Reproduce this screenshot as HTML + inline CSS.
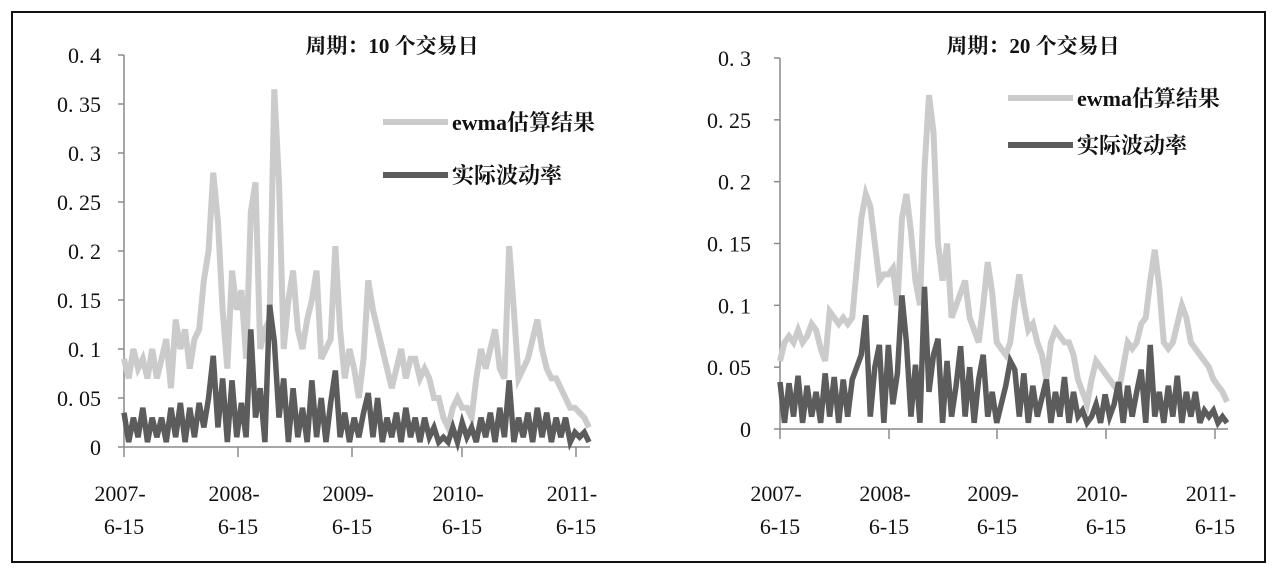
<!DOCTYPE html>
<html><head><meta charset="utf-8">
<style>
html,body{margin:0;padding:0;background:#fff;}
svg{display:block;}
text{font-family:"Liberation Serif","Noto Serif CJK SC","Noto Sans CJK SC",serif;fill:#111;}
</style></head>
<body>
<svg id="root" width="1278" height="571" viewBox="0 0 1278 571" xmlns="http://www.w3.org/2000/svg">
<rect x="12" y="12" width="1253" height="550" fill="#fff" stroke="#111" stroke-width="2"/>
<g id="c1"></g>
<g id="c2"></g>
</svg>
<script>
const xCategories = ["2007-|6-15","2008-|6-15","2009-|6-15","2010-|6-15","2011-|6-15"];
const yTicks1 = [0,0.05,0.1,0.15,0.2,0.25,0.3,0.35,0.4];
const yTickLabels1 = ["0","0. 05","0. 1","0. 15","0. 2","0. 25","0. 3","0. 35","0. 4"];
const yTicks2 = [0,0.05,0.1,0.15,0.2,0.25,0.3];
const yTickLabels2 = ["0","0. 05","0. 1","0. 15","0. 2","0. 25","0. 3"];
const ewma10 = [.09,.07,.10,.08,.09,.07,.10,.07,.09,.11,.06,.13,.10,.12,.08,.11,.12,.17,.20,.28,.23,.14,.08,.18,.14,.16,.09,.24,.27,.10,.12,.13,.365,.27,.10,.15,.18,.12,.10,.13,.15,.18,.09,.10,.11,.205,.12,.07,.10,.08,.05,.09,.17,.14,.12,.10,.08,.06,.08,.10,.07,.09,.09,.07,.08,.07,.05,.05,.03,.02,.04,.05,.04,.04,.03,.07,.10,.08,.10,.12,.08,.07,.205,.14,.07,.08,.09,.11,.13,.10,.08,.07,.07,.06,.05,.04,.04,.035,.03,.02];
const actual10 = [.035,.005,.03,.01,.04,.005,.03,.01,.03,.005,.04,.01,.045,.005,.04,.01,.045,.02,.05,.093,.02,.07,.005,.068,.01,.045,.01,.12,.03,.06,.005,.145,.108,.03,.07,.005,.06,.01,.04,.005,.068,.01,.05,.005,.045,.078,.01,.035,.005,.03,.01,.035,.055,.01,.05,.005,.03,.01,.035,.005,.04,.01,.03,.005,.03,.01,.02,.005,.01,.005,.02,.005,.025,.01,.02,.005,.03,.01,.035,.005,.04,.01,.068,.005,.03,.01,.035,.005,.04,.01,.035,.005,.03,.01,.03,.005,.015,.01,.015,.005];
const ewma20 = [.055,.07,.075,.07,.08,.07,.075,.085,.08,.065,.055,.095,.09,.085,.09,.085,.09,.13,.17,.19,.18,.15,.12,.125,.125,.13,.10,.17,.19,.16,.12,.10,.21,.27,.24,.15,.12,.15,.09,.10,.11,.12,.09,.08,.07,.10,.135,.11,.07,.065,.06,.07,.10,.125,.10,.08,.085,.07,.06,.04,.07,.08,.075,.07,.07,.06,.04,.03,.02,.04,.055,.05,.045,.04,.035,.03,.05,.07,.065,.07,.085,.09,.12,.145,.115,.07,.065,.07,.085,.10,.09,.07,.065,.06,.055,.05,.04,.035,.03,.022];
const actual20 = [.038,.005,.037,.01,.043,.005,.035,.01,.03,.005,.045,.01,.042,.005,.04,.01,.04,.05,.06,.092,.01,.05,.068,.005,.068,.02,.045,.108,.07,.01,.052,.005,.115,.03,.06,.073,.005,.055,.01,.035,.067,.01,.05,.005,.04,.06,.01,.03,.005,.02,.035,.055,.048,.01,.045,.005,.035,.01,.025,.04,.005,.03,.01,.042,.005,.03,.01,.015,.005,.01,.02,.005,.028,.01,.02,.038,.005,.035,.01,.03,.048,.005,.068,.01,.03,.005,.035,.01,.043,.005,.03,.01,.03,.005,.015,.01,.015,.005,.01,.005];

const NS="http://www.w3.org/2000/svg";
function mk(parent,tag,attrs){const e=document.createElementNS(NS,tag);for(const k in attrs)e.setAttribute(k,attrs[k]);parent.appendChild(e);return e;}

function drawChart(g,cfg){
  const {x0,x1,xEnd,y0,yTop,yMax,ticks,labels,labelRight,tickXs,ewma,actual,title,titleX,legX,legY1,legY2}=cfg;
  const ys=v=>y0-(v/yMax)*(y0-yTop);
  const n=ewma.length;
  const xs=i=>x0+(i/(n-1))*(xEnd-x0);
  const t=mk(g,'text',{x:titleX,y:53,'text-anchor':'middle','font-size':21,'font-weight':'bold'});
  t.textContent=title;
  
  
  const ya=mk(g,'line',{x1:x0,y1:yTop,x2:x0,y2:y0,stroke:'#8a8a8a','stroke-width':1.5});
  
  
  ticks.forEach((v,k)=>{
    mk(g,'line',{x1:x0-6,y1:ys(v),x2:x0,y2:ys(v),stroke:'#8a8a8a','stroke-width':1.5});
    const tl=mk(g,'text',{x:labelRight,y:ys(v)+8,'text-anchor':'end','font-size':22});
    tl.textContent=labels[k];
    
    
  });
  const xa=mk(g,'line',{x1:x0,y1:y0,x2:x1,y2:y0,stroke:'#8a8a8a','stroke-width':1.5});
  
  
  tickXs.forEach((tx,k)=>{
    mk(g,'line',{x1:tx,y1:y0,x2:tx,y2:y0+10,stroke:'#8a8a8a','stroke-width':1.5});
    const parts=xCategories[k].split('|');
    const a=mk(g,'text',{x:tx-4,y:501,'text-anchor':'middle','font-size':22});
    a.textContent=parts[0];
    
    
    const b=mk(g,'text',{x:tx,y:534,'text-anchor':'middle','font-size':22});
    b.textContent=parts[1];
    
    
  });
  const p1=mk(g,'polyline',{points:ewma.map((v,i)=>xs(i)+','+ys(v)).join(' '),fill:'none',stroke:'#cbcbcb','stroke-width':6,'stroke-linejoin':'miter'});
  
  
  const p2=mk(g,'polyline',{points:actual.map((v,i)=>xs(i)+','+ys(v)).join(' '),fill:'none',stroke:'#5c5c5c','stroke-width':5.5,'stroke-linejoin':'miter'});
  
  
  const l1=mk(g,'g',{});
  
  
  mk(l1,'line',{x1:legX,y1:legY1,x2:legX+65,y2:legY1,stroke:'#cbcbcb','stroke-width':6});
  const lt1=mk(l1,'text',{x:legX+69,y:legY1+8,'font-size':22,'font-weight':'bold'});
  lt1.textContent='ewma估算结果';
  const l2=mk(g,'g',{});
  
  
  mk(l2,'line',{x1:legX,y1:legY2,x2:legX+65,y2:legY2,stroke:'#5c5c5c','stroke-width':6});
  const lt2=mk(l2,'text',{x:legX+69,y:legY2+8,'font-size':22,'font-weight':'bold'});
  lt2.textContent='实际波动率';
}

drawChart(document.getElementById('c1'),{x0:124,x1:590,xEnd:589,y0:447,yTop:55,yMax:0.4,ticks:yTicks1,labels:yTickLabels1,labelRight:101,tickXs:[124,238,352,462,576],ewma:ewma10,actual:actual10,title:'周期：10 个交易日',titleX:392,legX:383,legY1:122,legY2:175});
drawChart(document.getElementById('c2'),{x0:780,x1:1228,xEnd:1227,y0:429,yTop:58,yMax:0.3,ticks:yTicks2,labels:yTickLabels2,labelRight:751,tickXs:[780,889,997,1106,1215],ewma:ewma20,actual:actual20,title:'周期：20 个交易日',titleX:1033,legX:1008,legY1:98,legY2:145});
</script>
</body></html>
